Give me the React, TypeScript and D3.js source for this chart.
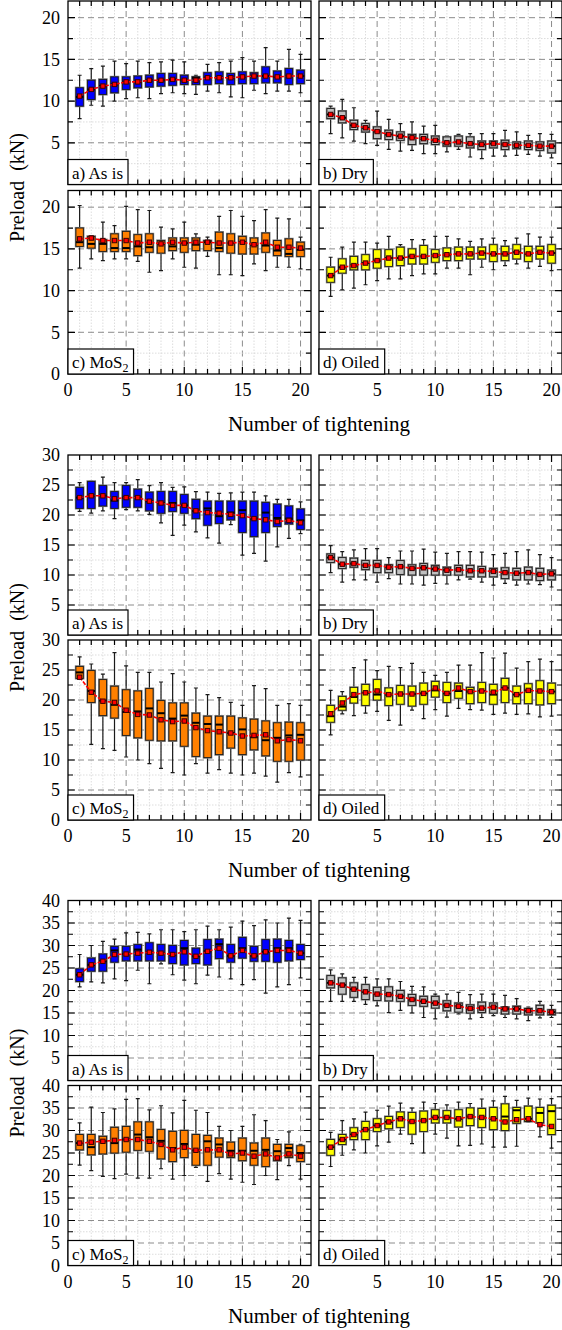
import * as d3 from "d3";
import React, { useEffect, useRef } from "react";

// tightening number (x categories)
const tightening = [1, 2, 3, 4, 5, 6, 7, 8, 9, 10, 11, 12, 13, 14, 15, 16, 17, 18, 19, 20];

// each row: [min, q1, median, q3, max, mean]  (kN)
type Row = [number, number, number, number, number, number];

// ---- first figure (0-22 kN)
const g1AsIs: Row[] = [
  [7.9, 9.4, 10.5, 11.6, 13.1, 10.6], [9.5, 10.2, 11.4, 12.5, 13.9, 11.4], [9.4, 10.8, 11.8, 12.6, 14.2, 11.8],
  [10.0, 11.0, 12.0, 12.9, 14.8, 12.0], [10.3, 11.4, 12.3, 12.9, 14.5, 12.3], [10.4, 11.6, 12.3, 13.0, 14.8, 12.3],
  [10.3, 11.7, 12.5, 13.1, 14.6, 12.5], [10.9, 11.8, 12.5, 13.3, 14.7, 12.5], [11.0, 11.9, 12.6, 13.3, 14.9, 12.6],
  [10.9, 12.0, 12.5, 13.1, 14.7, 12.5], [10.8, 12.0, 12.8, 12.9, 13.1, 12.5], [11.2, 12.0, 12.8, 13.4, 14.4, 12.8],
  [11.0, 12.1, 12.8, 13.5, 14.6, 12.8], [10.5, 12.0, 12.8, 13.3, 14.8, 12.8], [10.4, 12.1, 12.9, 13.5, 15.2, 12.9],
  [11.3, 12.1, 13.0, 13.4, 14.8, 13.0], [10.9, 12.2, 13.0, 14.1, 16.4, 13.0], [11.2, 12.2, 12.9, 13.6, 14.8, 12.9],
  [11.2, 12.0, 13.0, 13.9, 16.2, 13.0], [11.0, 12.1, 13.0, 13.7, 15.6, 13.0],
];
const g1Dry: Row[] = [
  [6.1, 7.9, 8.4, 9.1, 9.4, 8.4], [5.6, 7.4, 8.0, 8.8, 10.2, 8.0], [5.2, 6.6, 7.1, 7.7, 9.2, 7.1],
  [4.9, 6.3, 6.8, 7.3, 7.7, 6.8], [4.7, 5.5, 6.35, 6.9, 8.8, 6.35], [4.2, 5.4, 6.0, 6.5, 7.8, 6.0],
  [4.0, 5.3, 5.8, 6.3, 7.3, 5.8], [4.1, 4.8, 5.6, 6.0, 7.5, 5.6], [3.7, 4.9, 5.5, 6.0, 7.0, 5.5],
  [3.7, 4.8, 5.3, 5.8, 7.1, 5.3], [3.9, 4.6, 5.0, 5.7, 5.8, 5.0], [4.2, 4.6, 5.1, 5.8, 6.0, 5.1],
  [3.3, 4.4, 4.9, 5.7, 6.1, 4.9], [3.1, 4.2, 4.8, 5.2, 6.1, 4.8], [3.4, 4.4, 4.9, 5.2, 6.1, 4.9],
  [3.4, 4.2, 4.8, 5.3, 6.5, 4.8], [3.5, 4.3, 4.7, 5.1, 6.3, 4.7], [3.6, 4.2, 4.7, 5.2, 5.9, 4.7],
  [3.4, 4.1, 4.6, 5.1, 6.1, 4.6], [3.2, 3.8, 4.6, 5.2, 6.0, 4.6],
];
const g1MoS2: Row[] = [
  [12.7, 15.3, 15.8, 17.5, 20.2, 16.2], [13.8, 15.1, 15.6, 16.5, 16.6, 16.3], [13.6, 14.7, 15.6, 16.1, 18.2, 16.0],
  [13.8, 14.7, 15.1, 16.8, 17.8, 16.0], [13.8, 14.7, 15.1, 17.1, 20.1, 16.0], [13.5, 14.2, 15.3, 16.7, 19.7, 15.7],
  [12.2, 14.6, 15.2, 16.8, 19.6, 15.8], [12.4, 14.5, 15.6, 16.0, 17.6, 15.6], [13.8, 14.8, 15.3, 16.3, 17.4, 15.8],
  [12.8, 14.6, 15.7, 16.3, 18.2, 15.7], [12.7, 14.8, 15.5, 16.3, 16.8, 15.8], [14.1, 14.8, 15.8, 16.0, 16.4, 15.8],
  [11.9, 14.7, 15.1, 17.0, 18.9, 15.7], [11.9, 14.5, 15.7, 16.8, 19.6, 15.7], [11.8, 14.4, 15.8, 16.5, 18.9, 15.8],
  [13.2, 14.4, 15.5, 16.3, 18.4, 15.5], [12.4, 14.6, 15.4, 16.9, 19.7, 15.8], [12.8, 14.2, 14.8, 16.0, 18.7, 15.2],
  [12.8, 14.1, 14.4, 16.2, 18.6, 15.2], [12.6, 14.1, 14.9, 15.8, 16.4, 15.1],
];
const g1Oiled: Row[] = [
  [9.3, 11.0, 11.8, 12.8, 14.0, 11.8], [10.1, 12.1, 12.8, 13.8, 15.2, 12.8], [10.3, 12.5, 13.0, 14.1, 15.8, 13.0],
  [10.7, 12.5, 13.3, 14.3, 15.8, 13.3], [11.2, 12.7, 13.6, 14.9, 15.7, 13.6], [11.4, 12.9, 13.9, 14.9, 16.5, 13.9],
  [11.4, 13.0, 13.9, 15.2, 15.5, 13.9], [11.8, 13.2, 14.1, 15.0, 16.1, 14.1], [12.0, 13.2, 14.1, 15.4, 16.1, 14.1],
  [12.0, 13.4, 14.2, 14.9, 16.5, 14.2], [12.7, 13.6, 14.3, 15.1, 16.5, 14.3], [12.7, 13.6, 14.4, 15.2, 16.2, 14.4],
  [11.9, 13.8, 14.4, 15.2, 15.9, 14.4], [12.8, 13.8, 14.5, 15.2, 16.2, 14.5], [12.5, 13.5, 14.4, 15.5, 16.3, 14.4],
  [13.0, 13.6, 14.4, 15.3, 16.0, 14.4], [13.2, 13.8, 14.6, 15.5, 16.3, 14.6], [12.7, 13.5, 14.4, 15.3, 16.8, 14.4],
  [12.9, 13.8, 14.6, 15.3, 16.4, 14.6], [12.4, 13.3, 14.5, 15.5, 16.4, 14.5],
];

// ---- second figure (0-30 kN)
const g2AsIs: Row[] = [
  [20.6, 21.1, 22.9, 24.6, 25.4, 22.9], [20.3, 21.1, 23.2, 25.6, 25.6, 23.2], [20.7, 21.5, 23.2, 24.9, 26.3, 23.2],
  [19.4, 21.1, 22.4, 23.9, 25.4, 22.7], [20.9, 21.3, 22.9, 24.9, 25.4, 22.9], [20.7, 21.3, 22.9, 24.3, 25.9, 22.9],
  [20.1, 20.7, 22.3, 23.8, 24.9, 22.3], [18.7, 20.3, 22.0, 23.9, 25.4, 22.0], [16.6, 20.6, 22.0, 23.9, 24.6, 21.6],
  [18.3, 20.3, 21.6, 23.4, 24.7, 21.6], [17.2, 19.4, 20.7, 22.6, 23.9, 20.7], [16.2, 18.3, 21.1, 22.3, 23.8, 20.4],
  [15.3, 18.6, 19.8, 22.3, 23.6, 20.3], [18.4, 19.2, 20.4, 22.3, 23.7, 20.1], [13.3, 17.1, 20.8, 22.3, 23.8, 19.9],
  [13.6, 16.4, 19.4, 22.3, 23.8, 19.4], [12.3, 17.1, 20.4, 22.1, 23.2, 19.2], [14.7, 18.1, 19.5, 21.8, 22.6, 18.9],
  [16.1, 18.5, 19.4, 21.5, 22.6, 19.1], [16.9, 17.6, 19.1, 21.0, 22.2, 18.7],
];
const g2Dry: Row[] = [
  [10.4, 12.1, 12.9, 13.5, 14.9, 12.9], [8.8, 11.1, 11.8, 12.9, 13.9, 11.8], [9.2, 11.3, 11.9, 12.8, 14.2, 11.9],
  [9.2, 10.9, 11.6, 12.4, 14.4, 11.6], [8.8, 10.4, 11.6, 12.4, 14.4, 11.6], [9.4, 10.4, 11.3, 11.7, 12.9, 11.3],
  [8.5, 10.1, 11.4, 12.4, 14.0, 11.4], [8.5, 10.0, 11.1, 11.7, 14.0, 11.1], [8.3, 10.0, 11.2, 11.9, 14.3, 11.2],
  [8.6, 10.0, 11.0, 11.6, 13.8, 11.0], [8.5, 10.0, 10.8, 11.3, 13.6, 10.8], [9.2, 10.0, 10.9, 11.6, 13.9, 10.9],
  [9.3, 9.7, 10.7, 11.6, 13.9, 10.7], [8.8, 9.7, 10.7, 11.4, 13.8, 10.7], [8.3, 9.7, 10.6, 11.1, 13.4, 10.6],
  [8.6, 9.4, 10.4, 11.2, 13.6, 10.4], [8.3, 9.2, 10.3, 11.1, 13.9, 10.3], [8.5, 9.2, 10.4, 11.3, 14.2, 10.4],
  [8.4, 9.1, 10.1, 11.1, 13.4, 10.1], [8.0, 9.2, 10.2, 10.8, 12.9, 10.2],
];
const g2MoS2: Row[] = [
  [23.6, 23.6, 24.6, 25.6, 27.2, 23.8], [12.6, 19.6, 21.5, 24.9, 26.0, 21.3], [11.9, 17.4, 19.9, 23.4, 24.3, 19.8],
  [11.6, 17.0, 19.2, 22.3, 27.9, 19.6], [10.5, 14.1, 18.0, 21.7, 25.7, 18.3], [10.0, 13.7, 18.1, 21.5, 24.6, 17.6],
  [9.4, 13.3, 18.6, 21.9, 24.6, 17.5], [8.6, 13.2, 17.8, 19.9, 23.0, 16.7], [7.9, 13.2, 16.9, 19.5, 24.4, 16.4],
  [7.5, 12.3, 17.4, 19.5, 23.0, 16.5], [9.4, 10.6, 16.2, 17.8, 22.0, 15.4], [7.8, 10.4, 16.0, 17.3, 20.9, 14.9],
  [8.4, 10.9, 15.9, 17.3, 20.4, 14.7], [7.8, 12.0, 14.5, 17.3, 19.6, 14.5], [7.5, 10.9, 15.1, 17.0, 19.1, 14.0],
  [7.8, 11.7, 13.8, 16.8, 22.4, 14.1], [7.3, 10.7, 13.3, 16.5, 21.9, 14.2], [6.3, 9.8, 13.7, 16.2, 19.1, 13.2],
  [7.9, 9.8, 14.1, 16.3, 19.4, 13.4], [7.2, 10.0, 14.2, 16.2, 19.1, 13.2],
];
const g2Oiled: Row[] = [
  [14.2, 16.3, 17.3, 19.1, 21.6, 17.7], [17.7, 18.3, 18.9, 20.6, 21.4, 19.5], [17.4, 19.5, 20.5, 22.1, 25.4, 20.9],
  [17.8, 19.1, 21.2, 22.6, 26.7, 21.2], [18.1, 20.0, 20.9, 23.4, 24.9, 21.5], [16.6, 19.1, 20.9, 22.0, 25.6, 20.9],
  [15.8, 19.3, 21.0, 22.4, 25.4, 21.0], [18.3, 19.0, 21.0, 22.3, 26.1, 21.0], [16.9, 19.3, 21.1, 22.8, 24.6, 21.1],
  [18.4, 20.5, 21.6, 23.1, 24.1, 22.0], [17.3, 19.6, 21.1, 22.9, 24.6, 21.1], [18.6, 20.3, 21.5, 22.8, 25.8, 22.0],
  [18.4, 19.4, 21.4, 22.1, 25.8, 21.4], [18.3, 19.6, 21.5, 22.9, 27.9, 21.5], [17.6, 19.3, 20.9, 22.6, 27.0, 21.3],
  [17.8, 19.6, 22.0, 23.6, 27.8, 22.0], [17.6, 19.4, 20.9, 22.3, 25.3, 20.9], [17.7, 19.4, 21.6, 22.7, 26.4, 21.6],
  [17.2, 19.2, 21.5, 23.2, 26.8, 21.5], [17.3, 19.4, 21.4, 22.8, 26.4, 21.4],
];

// ---- third figure (0-40 kN)
const g3AsIs: Row[] = [
  [20.8, 22.0, 23.5, 24.8, 28.0, 23.5], [21.9, 24.3, 25.7, 27.2, 30.0, 25.7], [21.7, 24.3, 26.5, 28.1, 30.9, 26.5],
  [22.6, 26.3, 28.9, 29.8, 31.4, 28.0], [22.2, 26.6, 28.1, 29.8, 32.8, 28.1], [24.5, 26.6, 29.1, 30.2, 32.9, 28.3],
  [21.5, 26.6, 28.5, 30.6, 32.6, 28.5], [25.9, 26.6, 28.3, 30.2, 33.5, 28.3], [23.5, 26.0, 28.0, 30.0, 33.5, 28.0],
  [22.3, 25.7, 29.4, 31.1, 33.1, 28.6], [21.5, 26.0, 27.6, 29.4, 33.5, 27.6], [23.4, 25.7, 28.7, 31.3, 34.3, 28.7],
  [23.0, 27.1, 30.3, 31.4, 33.5, 29.4], [22.6, 26.3, 27.7, 30.2, 34.1, 27.7], [21.3, 27.2, 29.4, 31.8, 35.4, 28.9],
  [22.4, 26.5, 27.7, 29.8, 34.4, 27.7], [19.4, 26.5, 28.6, 31.3, 35.7, 28.6], [20.8, 26.3, 29.4, 31.4, 35.0, 28.9],
  [21.3, 26.6, 29.4, 31.1, 36.1, 28.9], [22.8, 26.9, 28.3, 30.2, 35.6, 28.3],
];
const g3Dry: Row[] = [
  [17.6, 20.6, 21.7, 23.3, 24.6, 21.7], [17.6, 19.2, 21.2, 22.8, 23.7, 21.2], [17.6, 18.5, 20.3, 21.7, 22.9, 20.3],
  [16.9, 18.0, 19.7, 21.3, 22.9, 19.7], [16.6, 17.8, 19.2, 20.7, 22.6, 19.2], [15.1, 17.7, 19.1, 20.8, 22.6, 19.1],
  [15.6, 17.6, 18.7, 20.0, 22.0, 18.7], [15.0, 16.7, 18.0, 19.1, 20.9, 18.0], [14.0, 16.5, 17.6, 18.7, 20.8, 17.6],
  [13.7, 16.1, 17.2, 18.7, 19.2, 17.2], [14.1, 15.5, 16.7, 17.7, 19.2, 16.7], [14.8, 15.2, 16.5, 17.2, 19.6, 16.5],
  [13.7, 15.0, 16.0, 16.8, 19.1, 16.0], [14.0, 15.1, 16.1, 17.4, 19.2, 16.1], [14.4, 15.0, 16.3, 17.2, 19.2, 16.3],
  [14.0, 14.8, 15.9, 16.3, 18.9, 15.9], [13.7, 14.8, 15.9, 16.5, 18.2, 15.9], [13.3, 14.6, 15.5, 16.0, 16.3, 15.5],
  [13.9, 14.6, 15.5, 16.7, 17.6, 15.5], [14.0, 14.6, 15.2, 15.7, 16.7, 15.2],
];
const g3MoS2: Row[] = [
  [22.3, 25.7, 27.2, 29.1, 31.7, 27.2], [21.1, 24.6, 26.3, 29.1, 35.2, 27.4], [19.8, 24.8, 27.6, 28.7, 34.0, 27.6],
  [19.3, 25.0, 27.2, 30.7, 34.8, 27.8], [20.3, 25.2, 28.0, 30.9, 36.9, 28.0], [19.4, 25.6, 29.1, 31.9, 37.1, 28.0],
  [19.4, 25.4, 28.5, 31.9, 34.6, 27.6], [21.5, 23.7, 27.7, 30.2, 35.5, 26.9], [19.2, 23.1, 26.1, 29.8, 33.9, 25.7],
  [20.0, 24.0, 27.0, 30.0, 36.7, 26.3], [21.8, 22.3, 25.6, 29.1, 34.5, 25.6], [18.7, 22.3, 27.6, 28.9, 34.0, 25.7],
  [20.4, 24.1, 26.9, 28.3, 30.9, 25.7], [19.2, 24.0, 25.5, 27.4, 30.0, 24.8], [18.5, 23.3, 25.5, 28.3, 30.9, 25.0],
  [18.0, 22.3, 25.5, 27.2, 33.5, 24.3], [20.0, 22.0, 25.7, 28.3, 32.2, 24.8], [19.1, 23.3, 25.4, 26.9, 28.0, 23.9],
  [22.2, 24.0, 26.1, 26.9, 29.7, 24.8], [19.2, 23.1, 25.0, 26.6, 26.9, 24.3],
];
const g3Oiled: Row[] = [
  [22.0, 24.5, 26.3, 28.0, 29.6, 26.3], [24.5, 26.9, 28.0, 29.1, 32.2, 28.0], [25.7, 28.0, 29.1, 30.6, 32.6, 29.1],
  [25.0, 28.0, 30.2, 32.0, 34.1, 30.2], [26.6, 29.8, 31.1, 32.6, 34.5, 31.1], [27.4, 30.4, 31.9, 33.1, 35.4, 31.9],
  [29.2, 30.7, 32.6, 34.1, 36.1, 32.6], [27.1, 29.2, 32.0, 34.0, 35.0, 32.0], [25.0, 29.8, 32.2, 34.3, 36.3, 32.2],
  [29.2, 31.7, 32.9, 34.6, 36.0, 32.9], [28.3, 31.7, 32.9, 34.4, 35.7, 32.9], [26.6, 30.8, 32.6, 34.6, 36.3, 32.6],
  [26.7, 31.1, 33.1, 35.0, 36.0, 33.1], [27.0, 30.7, 32.9, 34.9, 37.0, 32.9], [26.3, 30.2, 32.6, 35.1, 36.6, 32.6],
  [26.3, 30.0, 33.1, 35.9, 37.6, 31.9], [26.5, 31.6, 34.5, 35.1, 36.7, 32.4], [31.9, 32.0, 32.6, 35.4, 37.2, 32.6],
  [28.6, 31.7, 33.9, 35.1, 37.0, 31.3], [26.1, 29.1, 34.3, 35.6, 37.1, 30.9],
];

const conditions = ["a) As is", "b) Dry", "c) MoS", "d) Oiled"];
const colors = ["#0000ff", "#c0c0c0", "#ff8000", "#ffff00"];
const yMaxes = [22, 30, 40];
const xTickLabels = [0, 5, 10, 15, 20];

const figures = [
  [g1AsIs, g1Dry, g1MoS2, g1Oiled],
  [g2AsIs, g2Dry, g2MoS2, g2Oiled],
  [g3AsIs, g3Dry, g3MoS2, g3Oiled],
];

// layout (pixels)
const colX = [[68, 311], [319, 562]];
const rowY = [
  [[1, 184.5], [190.5, 374]],
  [[455, 635], [640, 820]],
  [[900.5, 1080.5], [1085.5, 1265.5]],
];
const font = "'Liberation Serif', 'Times New Roman', serif";

export default function App() {
  const svgRef = useRef<SVGSVGElement>(null);

  useEffect(() => {
    const svg = d3.select(svgRef.current);
    svg.selectAll("*").remove();

    figures.forEach((panels, fi) => {
      const yMax = yMaxes[fi];
      panels.forEach((data, pi) => {
        const col = pi % 2;
        const row = Math.floor(pi / 2);
        const [x0, x1] = colX[col];
        const [y0, y1] = rowY[fi][row];
        const x = d3.scaleLinear().domain([0, 20.9]).range([x0, x1]);
        const y = d3.scaleLinear().domain([0, yMax]).range([y1, y0]);
        const g = svg.append("g");

        g.append("rect").attr("x", x0).attr("y", y0)
          .attr("width", x1 - x0).attr("height", y1 - y0).attr("fill", "#fff");

        // grid
        const xs = d3.range(1, 21);
        const ys = d3.range(2.5, yMax, 2.5);
        g.selectAll(".vgrid").data(xs).enter().append("line")
          .attr("x1", d => x(d)).attr("x2", d => x(d)).attr("y1", y0).attr("y2", y1)
          .attr("stroke", d => d % 5 === 0 ? "#8c8c8c" : "#d4d4d4")
          .attr("stroke-width", d => d % 5 === 0 ? 1 : 0.8)
          .attr("stroke-dasharray", d => d % 5 === 0 ? "6,4" : "1.5,1.5");
        g.selectAll(".hgrid").data(ys).enter().append("line")
          .attr("x1", x0).attr("x2", x1).attr("y1", d => y(d)).attr("y2", d => y(d))
          .attr("stroke", d => d % 5 === 0 ? "#8c8c8c" : "#d4d4d4")
          .attr("stroke-width", d => d % 5 === 0 ? 1 : 0.8)
          .attr("stroke-dasharray", d => d % 5 === 0 ? "6,4" : "1.5,1.5");

        // inward ticks on all sides
        const tl = (d: number) => d % 5 === 0 ? 7 : 5;
        g.selectAll(".xt").data(d3.range(1, 21)).enter().append("path")
          .attr("d", d => `M${x(d)},${y1}v${-tl(d)}M${x(d)},${y0}v${tl(d)}`)
          .attr("stroke", "#000").attr("stroke-width", 1.2);
        g.selectAll(".yt").data(d3.range(2.5, yMax, 2.5)).enter().append("path")
          .attr("d", d => `M${x0},${y(d)}h${tl(d)}M${x1},${y(d)}h${-tl(d)}`)
          .attr("stroke", "#000").attr("stroke-width", 1.2);

        // box plots
        const bw = 7.4;
        data.forEach((d, i) => {
          const cx = x(tightening[i]);
          const [mn, q1, md, q3, mx] = d;
          g.append("path")
            .attr("d", `M${cx},${y(mx)}V${y(q3)}M${cx},${y(q1)}V${y(mn)}M${cx - 2},${y(mx)}H${cx + 2}M${cx - 2},${y(mn)}H${cx + 2}`)
            .attr("stroke", "#1a1a1a").attr("stroke-width", 1.2).attr("fill", "none");
          g.append("rect")
            .attr("x", cx - bw / 2).attr("y", y(q3))
            .attr("width", bw).attr("height", Math.max(0.5, y(q1) - y(q3)))
            .attr("fill", colors[pi]).attr("stroke", "#7a7a7a").attr("stroke-width", 2.2);
          g.append("rect")
            .attr("x", cx - bw / 2).attr("y", y(q3))
            .attr("width", bw).attr("height", Math.max(0.5, y(q1) - y(q3)))
            .attr("fill", colors[pi]).attr("stroke", "#1a1a1a").attr("stroke-width", 0.9);
          g.append("line")
            .attr("x1", cx - bw / 2).attr("x2", cx + bw / 2)
            .attr("y1", y(md)).attr("y2", y(md))
            .attr("stroke", "#000").attr("stroke-width", 2);
        });

        // mean line + markers
        const line = d3.line<Row>().x((d, i) => x(tightening[i])).y(d => y(d[5]));
        g.append("path").datum(data).attr("d", line)
          .attr("fill", "none").attr("stroke", "#ff0000").attr("stroke-width", 1.6)
          .attr("stroke-dasharray", "4,1.5");
        g.selectAll(".mean").data(data).enter().append("rect")
          .attr("x", (d, i) => x(tightening[i]) - 2.2).attr("y", d => y(d[5]) - 2.2)
          .attr("width", 4.4).attr("height", 4.4)
          .attr("fill", "#ff0000").attr("stroke", "#3a0000").attr("stroke-width", 1);

        // frame
        g.append("rect").attr("x", x0).attr("y", y0)
          .attr("width", x1 - x0).attr("height", y1 - y0)
          .attr("fill", "none").attr("stroke", "#000").attr("stroke-width", 1.3);

        // panel label
        const lbBox = g.append("rect");
        const lb = g.append("text")
          .attr("x", x0 + 4).attr("y", y1 - 6)
          .attr("font-family", font).attr("font-size", 17)
          .text(conditions[pi]);
        if (pi === 2) {
          lb.append("tspan").attr("font-size", 12).attr("dy", 4).text("2");
        }
        const w = (lb.node() as SVGTextElement).getBBox().width;
        lbBox.attr("x", x0).attr("y", y1 - 25)
          .attr("width", w + 9).attr("height", 25)
          .attr("fill", "#fff").attr("stroke", "#000").attr("stroke-width", 1.2);

        // y tick labels (left column)
        if (col === 0) {
          const yl = d3.range(row === 1 ? 0 : 5, yMax + 0.1, 5);
          g.selectAll(".yl").data(yl).enter().append("text")
            .attr("x", x0 - 8).attr("y", d => y(d)).attr("dy", "0.35em")
            .attr("text-anchor", "end")
            .attr("font-family", font).attr("font-size", 18)
            .text(d => d);
        }
        // x tick labels (bottom row)
        if (row === 1) {
          const xl = col === 0 ? xTickLabels : xTickLabels.slice(1);
          g.selectAll(".xl").data(xl).enter().append("text")
            .attr("x", d => x(d)).attr("y", y1 + 22)
            .attr("text-anchor", "middle")
            .attr("font-family", font).attr("font-size", 18)
            .text(d => d);
        }
      });

      // axis titles
      const mid = (rowY[fi][0][1] + rowY[fi][1][0]) / 2;
      svg.append("text")
        .attr("transform", `translate(24,${mid}) rotate(-90)`)
        .attr("text-anchor", "middle")
        .attr("font-family", font).attr("font-size", 20)
        .style("white-space", "pre")
        .text("Preload  (kN)");
      svg.append("text")
        .attr("x", (colX[0][0] + colX[1][1]) / 2 + 4).attr("y", rowY[fi][1][1] + 57)
        .attr("text-anchor", "middle")
        .attr("font-family", font).attr("font-size", 21)
        .text("Number of tightening");
    });
  }, []);

  return (
    <svg
      ref={svgRef}
      width={562}
      height={1330}
      style={{ position: "absolute", left: 0, top: 0, background: "#fff" }}
    />
  );
}
